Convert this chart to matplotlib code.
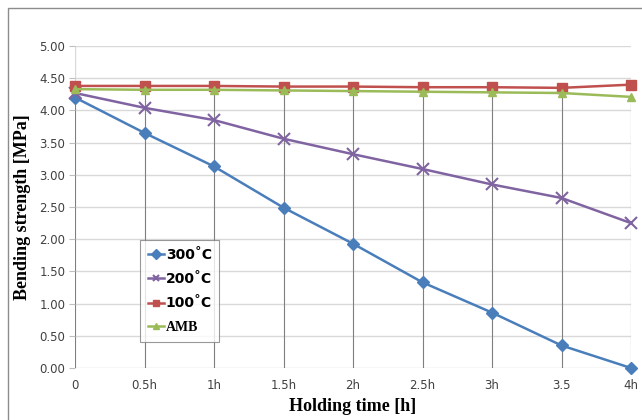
import matplotlib
matplotlib.use('Agg')
import matplotlib.pyplot as plt
from matplotlib.patches import Rectangle

x_labels = ['0', '0.5h', '1h', '1.5h', '2h', '2.5h', '3h', '3.5', '4h']
s300 = [4.20, 3.65, 3.13, 2.49, 1.93, 1.33, 0.86, 0.35, 0.00]
s200 = [4.27, 4.04, 3.85, 3.56, 3.32, 3.09, 2.85, 2.64, 2.25]
s100 = [4.38, 4.38, 4.38, 4.37, 4.37, 4.36, 4.36, 4.35, 4.40]
amb = [4.33, 4.32, 4.32, 4.31, 4.30, 4.29, 4.28, 4.27, 4.21]
y_ticks = [0, 0.5, 1.0, 1.5, 2.0, 2.5, 3.0, 3.5, 4.0, 4.5, 5.0]

xs = list(range(len(x_labels)))

fig = plt.figure(figsize=(6.42, 4.20), dpi=100)
fig.patches.append(Rectangle((8 / 642, -0.1), 1.2, (420 - 8) / 420 + 0.1,
                             transform=fig.transFigure, fill=False,
                             edgecolor='#8c8c8c', linewidth=1.0))
ax = fig.add_axes([75 / 642, 1 - 368 / 420, 556 / 642, 322 / 420])

# horizontal gridlines
for yv in y_ticks:
    ax.axhline(yv, color='#d9d9d9', linewidth=1.0, zorder=0)

# drop lines from the top series down to the axis
tops = [max(a, b, c, d) for a, b, c, d in zip(s300, s200, s100, amb)]
for xv, t in zip(xs, tops):
    ax.plot([xv, xv], [0, t], color='#7f7f7f', linewidth=0.8, zorder=1)
ax.plot([0, 0], [tops[0], 5.0], color='#d9d9d9', linewidth=1.0, zorder=0)

ax.plot(xs, s300, color='#4a7ebb', marker='D', markersize=6, linewidth=1.8,
        label='300˚C', zorder=3, clip_on=False)
ax.plot(xs, s200, color='#8064a2', marker='x', markersize=9, markeredgewidth=1.5,
        linewidth=1.8, label='200˚C', zorder=3, clip_on=False)
ax.plot(xs, s100, color='#c0504d', marker='s', markersize=7, linewidth=1.8,
        label='100˚C', zorder=3, clip_on=False)
ax.plot(xs, amb, color='#9bbb59', marker='^', markersize=6, linewidth=1.8,
        label='AMB', zorder=3, clip_on=False)

ax.set_xlim(0, 8)
ax.set_ylim(0, 5.0)
ax.set_xticks(xs)
ax.set_xticklabels(x_labels)
ax.set_yticks(y_ticks)
ax.set_yticklabels(['%.2f' % v for v in y_ticks])
ax.tick_params(axis='y', length=4, color='#bfbfbf', labelsize=8.5, labelcolor='#404040', pad=3)
ax.tick_params(axis='x', length=0, labelsize=8.5, labelcolor='#404040', pad=8)
for sp in ax.spines.values():
    sp.set_visible(False)

ax.set_xlabel('Holding time [h]', fontsize=13, fontweight='bold',
              family='Liberation Serif', labelpad=4)
ax.set_ylabel('Bending strength [MPa]', fontsize=13, fontweight='bold',
              family='Liberation Serif', labelpad=6)

leg = ax.legend(loc='upper left', bbox_to_anchor=(65 / 556, (368 - 240) / 322),
                frameon=True, fancybox=False, edgecolor='#7f7f7f',
                prop={'weight': 'bold', 'size': 10}, handlelength=1.2,
                handletextpad=0.1, labelspacing=0.75, borderpad=0.55,
                borderaxespad=0)
leg.get_frame().set_linewidth(0.8)
leg.texts[3].set_family('Liberation Serif')
for h in leg.legend_handles:
    h.set_markersize(5)

fig.savefig('out.png', dpi=100)
